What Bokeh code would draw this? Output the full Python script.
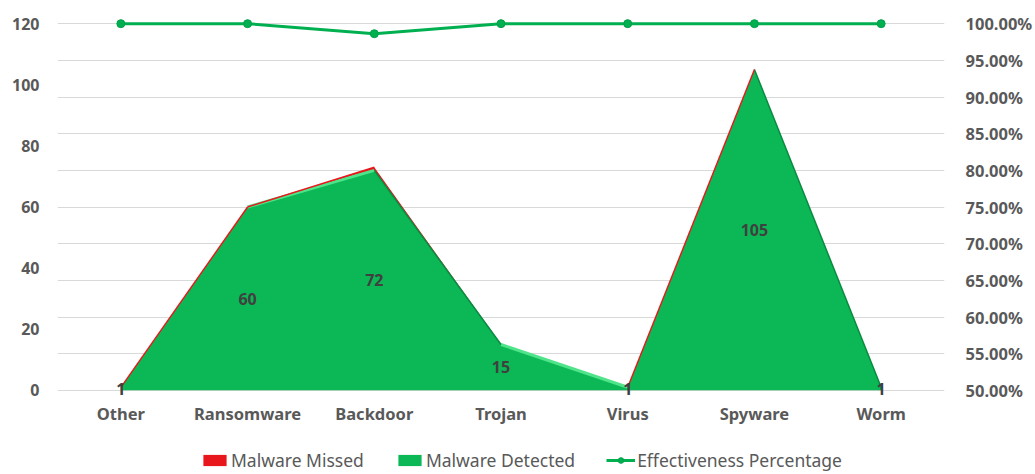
from bokeh.plotting import figure
from bokeh.layouts import column
from bokeh.models import (Range1d, LinearAxis, FixedTicker, PrintfTickFormatter,
                          Legend, LegendItem, ColumnDataSource)
from bokeh.core.properties import value
from bokeh.embed import file_html
from bokeh.resources import INLINE

categories = ["Other", "Ransomware", "Backdoor", "Trojan", "Virus", "Spyware", "Worm"]
detected = [1, 60, 72, 15, 1, 105, 1]
missed = [0, 0, 1, 0, 0, 0, 0]
effectiveness = [100.0, 100.0, 98.63, 100.0, 100.0, 100.0, 100.0]
left_ticks = [0, 20, 40, 60, 80, 100, 120]
right_ticks = [50, 55, 60, 65, 70, 75, 80, 85, 90, 95, 100]

FONT = "Noto Sans"
LABEL_C = "#595959"
GREEN = "#0bb855"
RED = "#e8171b"
LINE_G = "#00b050"

xs = list(range(len(categories)))
total = [d + m for d, m in zip(detected, missed)]
ymin, ymax = -3.0, 123.0

p = figure(width=1035, height=438, output_backend="svg", toolbar_location=None,
           x_range=Range1d(-0.5, len(categories) - 0.5), y_range=Range1d(ymin, ymax),
           min_border_left=57, min_border_right=90, min_border_top=14, min_border_bottom=39)
p.outline_line_color = None
p.background_fill_color = "white"
p.border_fill_color = "white"

p.extra_y_ranges = {"pct": Range1d(50 + ymin / 120 * 50, 50 + ymax / 120 * 50)}

# grid lines follow the secondary axis ticks
p.xgrid.visible = False
p.ygrid.ticker = FixedTicker(ticks=[(t - 50) / 50 * 120 for t in right_ticks])
p.ygrid.grid_line_color = "#d9d9d9"
p.ygrid.grid_line_width = 1

src = ColumnDataSource(dict(x=xs, detected=detected, total=total,
                            lab_y=[d / 2 for d in detected],
                            lab=[str(d) for d in detected],
                            eff=effectiveness))

p.varea(x="x", y1="detected", y2="total", source=src, fill_color=RED)
p.varea(x="x", y1=0, y2="detected", source=src, fill_color=GREEN)

# bevel effects on the top edge of the stack
hi = dict(x0=[], y0=[], x1=[], y1=[])
sh = dict(x0=[], y0=[], x1=[], y1=[])
rd = dict(x0=[], y0=[], x1=[], y1=[])
for i in range(len(xs) - 1):
    d0, d1 = detected[i], detected[i + 1]
    if abs(d1 - d0) < 50:
        tgt = hi
    elif d1 < d0:
        tgt = sh
    else:
        tgt = None
    if tgt is not None:
        tgt["x0"].append(xs[i]); tgt["y0"].append(d0)
        tgt["x1"].append(xs[i + 1]); tgt["y1"].append(d1)
    if total[i + 1] > total[i]:
        rd["x0"].append(xs[i]); rd["y0"].append(total[i])
        rd["x1"].append(xs[i + 1]); rd["y1"].append(total[i + 1])
p.segment(x0="x0", y0="y0", x1="x1", y1="y1", source=ColumnDataSource(hi),
          line_color="#4fe38a", line_width=3)
p.segment(x0="x0", y0="y0", x1="x1", y1="y1", source=ColumnDataSource(sh),
          line_color="#0a8a40", line_width=1.5)
p.segment(x0="x0", y0="y0", x1="x1", y1="y1", source=ColumnDataSource(rd),
          line_color=RED, line_width=1.4)

p.text(x="x", y="lab_y", text="lab", source=src, text_align="center",
       text_baseline="middle", text_color="#404040", text_font=value(FONT),
       text_font_size="16px", text_font_style="bold")

p.line(x="x", y="eff", source=src, y_range_name="pct", line_color=LINE_G, line_width=3)
p.scatter(x="x", y="eff", source=src, y_range_name="pct", size=8,
          fill_color=LINE_G, line_color="#00a04a")

# axes
p.yaxis.ticker = FixedTicker(ticks=left_ticks)
p.yaxis.axis_line_color = None
p.yaxis.major_tick_line_color = None
p.yaxis.minor_tick_line_color = None
p.yaxis.major_tick_out = 0
p.yaxis.major_label_standoff = 18
p.yaxis.major_label_text_font = FONT
p.yaxis.major_label_text_font_size = "16px"
p.yaxis.major_label_text_font_style = "bold"
p.yaxis.major_label_text_color = LABEL_C

p.xaxis.ticker = FixedTicker(ticks=xs)
p.xaxis.major_label_overrides = {i: c for i, c in enumerate(categories)}
p.xaxis.axis_line_color = None
p.xaxis.major_tick_line_color = None
p.xaxis.minor_tick_line_color = None
p.xaxis.major_tick_out = 0
p.xaxis.major_label_standoff = 2
p.xaxis.major_label_text_font = FONT
p.xaxis.major_label_text_font_size = "16.5px"
p.xaxis.major_label_text_font_style = "bold"
p.xaxis.major_label_text_color = LABEL_C

ax2 = LinearAxis(y_range_name="pct", ticker=FixedTicker(ticks=right_ticks),
                 formatter=PrintfTickFormatter(format="%.2f%%"))
ax2.axis_line_color = None
ax2.major_tick_line_color = None
ax2.minor_tick_line_color = None
ax2.major_tick_out = 0
ax2.major_label_standoff = 21
ax2.major_label_text_font = FONT
ax2.major_label_text_font_size = "16.5px"
ax2.major_label_text_font_style = "bold"
ax2.major_label_text_color = LABEL_C
p.add_layout(ax2, "right")

# legend strip: proxies of the same series, drawn outside the strip's view
q = figure(width=1035, height=36, output_backend="svg", toolbar_location=None,
           x_range=Range1d(100, 101), y_range=Range1d(1000, 1001),
           x_axis_type=None, y_axis_type=None,
           min_border_left=0, min_border_right=0, min_border_top=0, min_border_bottom=0)
q.outline_line_color = None
q.grid.visible = False
q.background_fill_color = "white"
q.border_fill_color = "white"
l_missed = q.varea(x="x", y1="detected", y2="total", source=src, fill_color=RED)
l_det = q.varea(x="x", y1=0, y2="detected", source=src, fill_color=GREEN)
l_line = q.line(x="x", y="eff", source=src, line_color=LINE_G, line_width=3)
l_pts = q.scatter(x="x", y="eff", source=src, size=8, fill_color=LINE_G, line_color="#00a04a")

legend = Legend(items=[LegendItem(label="Malware Missed", renderers=[l_missed]),
                       LegendItem(label="Malware Detected", renderers=[l_det]),
                       LegendItem(label="Effectiveness Percentage", renderers=[l_line, l_pts])],
                orientation="horizontal", location=(143, 2))
legend.border_line_color = None
legend.background_fill_alpha = 0
legend.label_text_font = FONT
legend.label_text_font_size = "17.5px"
legend.label_text_color = LABEL_C
legend.glyph_width = 29
legend.glyph_height = 14
legend.label_standoff = 2
legend.spacing = 31
legend.padding = 0
legend.margin = 0
q.add_layout(legend, "center")

layout = column(p, q, spacing=0)
open("out.html", "w").write(file_html(layout, INLINE))
